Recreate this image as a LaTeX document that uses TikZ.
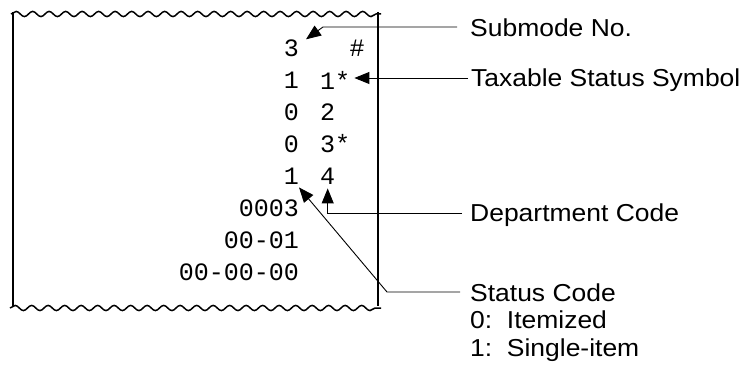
\documentclass[tikz,border=0pt]{standalone}
\usepackage{fontspec}
\setmainfont{Liberation Sans}
\newfontfamily\rcptfont{Liberation Mono}
\newfontfamily\lblfont[FakeStretch=1.08]{Liberation Sans}
\usetikzlibrary{arrows.meta,decorations.pathmorphing}

\tikzset{
  rcpt/.style={font=\rcptfont\fontsize{25}{25}\selectfont, inner sep=0pt},
  lbl/.style={font=\lblfont\fontsize{24.5}{28}\selectfont, inner sep=0pt, anchor=base west},
  lead/.style={line width=0.9pt, -{Triangle[length=15pt,width=12pt]}},
  paperside/.style={line width=2pt},
  tear/.style={line width=1.5pt, decorate,
    decoration={snake, segment length=16.5pt, amplitude=2.6pt}}
}

\begin{document}
\begin{tikzpicture}[x=1pt,y=-1pt]
\useasboundingbox (0,0) rectangle (749,371);
% paper strip
\draw[paperside] (13,12) -- (13,306);
\draw[paperside] (378,12) -- (378,306);
\draw[tear] (11,14) -- (381,14);
\draw[tear] (10,308) -- (381,308);

% printed lines
\node[rcpt,anchor=east] (n3) at (299,48) {3};
\node[rcpt] (hash) at (357,48) {\#};
\foreach \y/\a/\b/\k in {80/1/1*/1, 112/0/2/2, 144/0/3*/3, 176/1/4/4} {
  \node[rcpt,anchor=east] (sc\k) at (299,\y) {\a};
  \node[rcpt,anchor=west] (dc\k) at (320,\y) {\b};
}
\node[rcpt,anchor=east] (cnt) at (299,208) {0003};
\node[rcpt,anchor=east] (date) at (299,240) {00-01};
\node[rcpt,anchor=east] (time) at (299,272) {00-00-00};

% labels
\node[lbl] (sublbl) at (470,36.5) {Submode No.};
\node[lbl] (taxlbl) at (471,87) {Taxable Status Symbol};
\node[lbl] (deplbl) at (470,221.5) {Department Code};
\node[lbl] (statlbl) at (470,301.5) {Status Code};
\node[lbl] (stat0) at (470,328.5) {0:\ \ Itemized};
\node[lbl] (stat1) at (470,356.5) {1:\ \ Single-item};

% leaders
\coordinate (subin) at ([yshift=9.5pt]sublbl.base west);
\coordinate (subbend) at (323,27);
\draw[lead,shorten <=13pt] (subin) -- (subbend) -- ([xshift=7pt]n3.north east);

\coordinate (taxin) at ([yshift=9pt]taxlbl.base west);
\draw[lead,shorten <=3pt,shorten >=4pt] (taxin) -- (taxin -| dc1.east);

\coordinate (depin) at ([yshift=8pt]deplbl.base west);
\draw[lead,shorten <=8pt] (depin) -| ([yshift=-4pt]dc4.south);

\coordinate (statin) at ([yshift=9.5pt]statlbl.base west);
\coordinate (statbend) at (387,292);
\draw[lead,shorten <=10pt] (statin) -- (statbend) -- ([yshift=-3pt]sc4.south east);
\end{tikzpicture}
\end{document}
